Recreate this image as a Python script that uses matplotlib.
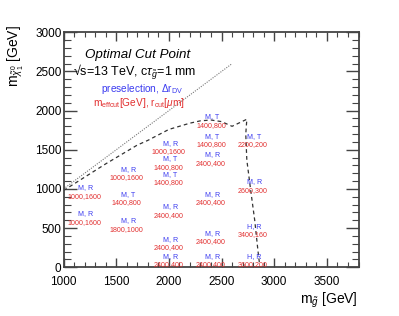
import matplotlib
matplotlib.use("Agg")
import matplotlib.pyplot as plt
from matplotlib.ticker import MultipleLocator

plt.rcParams['font.family'] = ['Liberation Sans', 'DejaVu Sans']
plt.rcParams['mathtext.fontset'] = 'custom'
plt.rcParams['mathtext.rm'] = 'Liberation Sans'
plt.rcParams['mathtext.it'] = 'Liberation Sans:italic'
plt.rcParams['mathtext.bf'] = 'Liberation Sans:bold'

# ---- data ----
# kinematic limit line (m_chi = m_gluino)
diag_x = [1000, 2600]
diag_y = [1000, 2600]

# contour (dashed)
contour_x = [1000, 1200, 1400, 1500, 1700, 1800, 2000, 2200, 2300, 2400, 2500, 2600,
             2740, 2730, 2740, 2780, 2815, 2845, 2860]
contour_y = [980, 1150, 1320, 1400, 1560, 1620, 1760, 1840, 1870, 1880, 1860, 1800,
             1890, 1700, 1370, 950, 600, 220, 50]

# signal grid points with labels
point_x = [1200, 1200,
           1600, 1600, 1600,
           2000, 2000, 2000, 2000, 2000, 2000,
           2400, 2400, 2400, 2400, 2400, 2400,
           2800, 2800, 2800, 2800]
point_y = [970, 640,
           1210, 890, 550,
           1540, 1340, 1140, 730, 310, 95,
           1880, 1630, 1390, 890, 390, 95,
           1630, 1050, 480, 95]
method_labels = ["M, R", "M, R",
                 "M, R", "M, T", "M, R",
                 "M, R", "M, T", "M, T", "M, R", "M, R", "M, R",
                 "M, T", "M, T", "M, R", "M, R", "M, R", "M, R",
                 "M, T", "M, R", "H, R", "H, R"]
cut_labels = ["1000,1600", "1000,1600",
              "1000,1600", "1400,800", "1800,1000",
              "1000,1600", "1400,800", "1400,800", "2400,400", "2400,400", "2400,400",
              "1400,800", "1400,800", "2400,400", "2400,400", "2400,400", "2400,400",
              "2200,200", "2600,300", "3400,160", "3600,200"]

x_ticks = [1000, 1500, 2000, 2500, 3000, 3500]
y_ticks = [0, 500, 1000, 1500, 2000, 2500, 3000]

W, H = 399, 316
fig = plt.figure(figsize=(W / 100, H / 100), dpi=100)
ax = fig.add_axes([63.5 / W, 1 - 267.3 / H, (358.5 - 63.5) / W, (267.3 - 32.3) / H])

ax.set_xlim(1000, 3800)
ax.set_ylim(0, 3000)

ax.plot(diag_x, diag_y, color='#777777', lw=0.8, ls=(0, (1, 1.2)))
ax.plot(contour_x, contour_y, color='#333333', lw=0.9, ls=(0, (3, 2.5)))

blue = '#3c3cf0'
red = '#e23030'
for x, y, m, c in zip(point_x, point_y, method_labels, cut_labels):
    ax.annotate(m, (x, y), xytext=(1, 3.2), textcoords='offset points',
                ha='center', va='center_baseline', color=blue, fontsize=5.1)
    ax.annotate(c, (x, y), xytext=(0, -2.9), textcoords='offset points',
                ha='center', va='center_baseline', color=red, fontsize=5.1)

ax.set_xticks(x_ticks)
ax.set_yticks(y_ticks)
ax.xaxis.set_minor_locator(MultipleLocator(100))
ax.yaxis.set_minor_locator(MultipleLocator(100))
spine_col = '#444444'
for s in ax.spines.values():
    s.set_color(spine_col)
    s.set_linewidth(1.3)
ax.tick_params(axis='x', which='major', direction='in', length=6.8, width=1.0,
               top=True, bottom=True, color=spine_col, labelsize=8.5, pad=6.5)
ax.tick_params(axis='x', which='minor', direction='in', length=3.6, width=0.8,
               top=True, bottom=True, color=spine_col)
ax.tick_params(axis='y', which='major', direction='in', length=9.5, width=1.0,
               left=True, right=True, color=spine_col, labelsize=8.5, pad=1.5)
ax.tick_params(axis='y', which='minor', direction='in', length=5.0, width=0.8,
               left=True, right=True, color=spine_col)

# axis titles
fig.text(358 / W, 1 - 300 / H, r'm$_{\tilde{g}}$ [GeV]', ha='right', va='center', fontsize=10)
fig.text(16 / W, 1 - 25 / H, r'm$_{\tilde{\chi}^{0}_{1}}$ [GeV]', ha='center', va='top',
         rotation=90, fontsize=10)

# annotations
fig.text(137.5 / W, 1 - 55 / H, 'Optimal Cut Point', ha='center', va='center',
         fontsize=9.6, style='italic')
fig.text(73 / W, 1 - 72 / H, '\u221as=13 TeV, c$\\tau_{\\tilde{g}}$=1 mm', ha='left', va='center',
         fontsize=9.0)
fig.text(101 / W, 1 - 89 / H, 'preselection, $\\Delta$r$_{\\rm DV}$', ha='left', va='center',
         fontsize=7.3, color=blue)
fig.text(93 / W, 1 - 103 / H, 'm$_{\\rm effcut}$[GeV], r$_{\\rm cut}$[$\\mu$m]', ha='left',
         va='center', fontsize=7.3, color=red)

fig.savefig('out.png', dpi=100)
